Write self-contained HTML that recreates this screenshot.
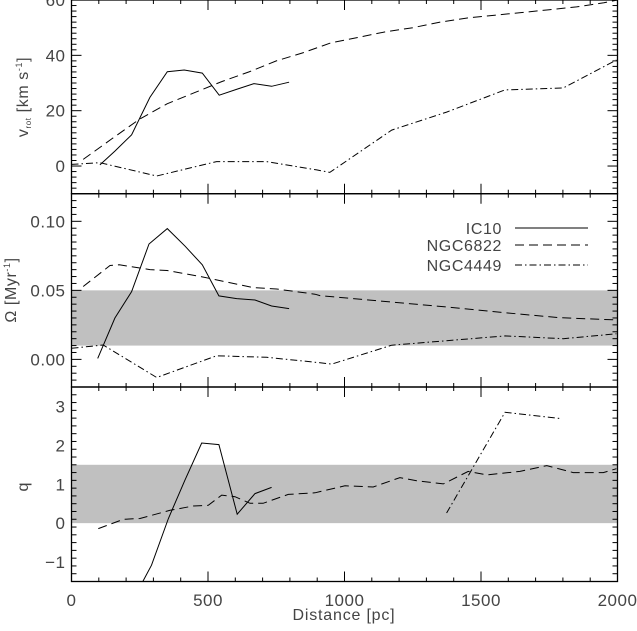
<!DOCTYPE html>
<html><head><meta charset="utf-8"><style>
html,body{margin:0;padding:0;background:#fff;}
svg{display:block;font-family:"Liberation Sans",sans-serif;}
</style></head><body>
<svg id="chart" width="637" height="631" viewBox="0 0 637 631" xmlns="http://www.w3.org/2000/svg"></svg>
<script>
const ic10V_d=[104,159,220,287,351,413,479,541,607,668,733,797];
const ic10V_v=[0.4,5.4,11.3,24.8,34.1,34.7,33.6,25.6,27.8,29.8,28.8,30.3];
const n6822V_d=[43,150,250,350,450,550,650,750,850,950,1050,1150,1250,1350,1450,1550,1650,1750,1850,1950,2000];
const n6822V_v=[2.4,10,17,22.5,26.5,30.5,34,38,41,44.5,46.5,48.5,50,52,53.5,54.5,55.5,56.5,57.5,59,60];
const n4449V_d=[0,104,312,531,715,898,946,1173,1374,1588,1801,1996];
const n4449V_v=[0.6,1.2,-3.6,1.6,1.6,-1.4,-2.3,13,19.5,27.5,28.2,38.3];

const ic10O_d=[96,159,220,284,351,416,479,540,605,672,733,797];
const ic10O_v=[0.0007,0.030,0.049,0.0836,0.0947,0.082,0.0685,0.046,0.044,0.043,0.0387,0.0368];
const n6822O_d=[43,141,175,287,350,483,666,751,892,910,1398,1594,1789,1984,2000];
const n6822O_v=[0.0528,0.068,0.0685,0.065,0.0644,0.0596,0.052,0.051,0.0472,0.0462,0.0375,0.0337,0.0302,0.0287,0.0285];
const n4449O_d=[0,116,312,531,715,898,953,1173,1588,1801,1996];
const n4449O_v=[0.008,0.0104,-0.0131,0.0026,0.0015,-0.0022,-0.0034,0.0103,0.017,0.015,0.0185];

const ic10Q_d=[261,293,355,415,477,540,607,672,733];
const ic10Q_v=[-1.5,-1.08,0.12,1.1,2.06,2.02,0.23,0.76,0.92];
const n6822Q_d=[98,190,251,361,446,501,550,599,654,702,794,892,910,1002,1105,1203,1264,1362,1453,1521,1643,1741,1838,1948,1996];
const n6822Q_v=[-0.14,0.1,0.12,0.33,0.44,0.46,0.72,0.68,0.51,0.51,0.74,0.78,0.81,0.96,0.93,1.17,1.09,1.01,1.33,1.24,1.33,1.48,1.3,1.3,1.4];
const n4449Q_d=[1374,1588,1789];
const n4449Q_v=[0.26,2.85,2.69];

const xTicks=[0,500,1000,1500,2000];
const vTicks=[0,20,40,60];
const oTicks=[0.00,0.05,0.10];
const qTicks=[-1,0,1,2,3];

const NS="http://www.w3.org/2000/svg";
const svg=document.getElementById('chart');
const X0=71.5,X1=617.5;
const TXT='#444';
const xs=d=>X0+(d/2000)*(X1-X0);
function mk(tag,attrs,parent){const e=document.createElementNS(NS,tag);for(const k in attrs)e.setAttribute(k,attrs[k]);(parent||svg).appendChild(e);return e;}
const panels=[
 {name:'velocity',top:0,bot:193.7,min:-10,max:60,minor:2,major:20,ticks:vTicks,fmt:v=>String(v),band:null,
  series:[[ic10V_d,ic10V_v,'none','ic10'],[n6822V_d,n6822V_v,'9,5','ngc6822'],[n4449V_d,n4449V_v,'7,3,1.5,3','ngc4449']]},
 {name:'omega',top:193.7,bot:387,min:-0.02,max:0.12,minor:0.005,major:0.05,ticks:oTicks,fmt:v=>v.toFixed(2),band:[0.01,0.05],
  series:[[ic10O_d,ic10O_v,'none','ic10'],[n6822O_d,n6822O_v,'9,5','ngc6822'],[n4449O_d,n4449O_v,'7,3,1.5,3','ngc4449']]},
 {name:'q',top:387,bot:581.5,min:-1.5,max:3.5,minor:0.2,major:1,ticks:qTicks,fmt:v=>(v<0?'\u2212'+Math.abs(v):String(v)),band:[0,1.5],
  series:[[ic10Q_d,ic10Q_v,'none','ic10'],[n6822Q_d,n6822Q_v,'9,5','ngc6822'],[n4449Q_d,n4449Q_v,'7,3,1.5,3','ngc4449']]}
];
panels.forEach(p=>{
 const ys=v=>p.bot-(v-p.min)/(p.max-p.min)*(p.bot-p.top);
 const g=mk('g',{});
 
 
 if(p.band){const r=mk('rect',{x:X0,y:ys(p.band[1]),width:X1-X0,height:ys(p.band[0])-ys(p.band[1]),fill:'#c0c0c0'},g);
  }
 p.series.forEach(s=>{
  const pts=s[0].map((d,i)=>xs(d).toFixed(1)+','+ys(s[1][i]).toFixed(1)).join(' ');
  const pl=mk('polyline',{points:pts,fill:'none',stroke:'#000','stroke-width':1},g);
  if(s[2]!=='none')pl.setAttribute('stroke-dasharray',s[2]);
  
  
 });
 for(let d=0;d<=2000;d+=100){const maj=d%500===0;const L=maj?10:4;const x=xs(d);
  mk('line',{x1:x,x2:x,y1:p.bot,y2:p.bot-L,stroke:'#000'},g);mk('line',{x1:x,x2:x,y1:p.top,y2:p.top+L,stroke:'#000'},g);}
 const nMin=Math.round((p.max-p.min)/p.minor);
 for(let i=0;i<=nMin;i++){const v=p.min+i*p.minor;const r=v/p.major;const maj=Math.abs(r-Math.round(r))<1e-6;const L=maj?10:5;const y=ys(v);
  mk('line',{x1:X0,x2:X0+L,y1:y,y2:y,stroke:'#000'},g);mk('line',{x1:X1,x2:X1-L,y1:y,y2:y,stroke:'#000'},g);}
 mk('rect',{x:X0,y:p.top,width:X1-X0,height:p.bot-p.top,fill:'none',stroke:'#000','stroke-width':1.3},g);
 p.ticks.forEach(v=>{const t=mk('text',{x:X0-6,y:ys(v)+6,'text-anchor':'end','font-size':17,fill:TXT,'letter-spacing':0.5},g);t.textContent=p.fmt(v);
  });
});
xTicks.forEach(d=>{const t=mk('text',{x:xs(d),y:606,'text-anchor':'middle','font-size':17,fill:TXT,'letter-spacing':0.5});t.textContent=String(d);
 });
let t=mk('text',{x:344,y:620,'text-anchor':'middle','font-size':16,fill:TXT,'letter-spacing':0.8});t.textContent='Distance [pc]';

t=mk('text',{transform:'translate(28,97) rotate(-90)','text-anchor':'middle','font-size':16,fill:TXT,'letter-spacing':0.6});
t.innerHTML='v<tspan font-size="8" dy="3">rot</tspan><tspan dy="-3"> [km s</tspan><tspan font-size="9" dy="-6">-1</tspan><tspan dy="6">]</tspan>';

t=mk('text',{transform:'translate(16,290) rotate(-90)','text-anchor':'middle','font-size':16,fill:TXT,'letter-spacing':0.6});
t.innerHTML='\u03A9  [Myr<tspan font-size="9" dy="-6">-1</tspan><tspan dy="6">]</tspan>';

t=mk('text',{transform:'translate(28,487) rotate(-90)','text-anchor':'middle','font-size':16,fill:TXT});t.textContent='q';

const legend=[['IC10','none',228],['NGC6822','9,5',245],['NGC4449','7,3,1.5,3',265]];
legend.forEach(l=>{const g=mk('g',{});
 const tx=mk('text',{x:502,y:l[2]+6,'text-anchor':'end','font-size':16,fill:TXT,'letter-spacing':0.6},g);tx.textContent=l[0];
 const ln=mk('line',{x1:515,x2:588,y1:l[2],y2:l[2],stroke:'#000'},g);if(l[1]!=='none')ln.setAttribute('stroke-dasharray',l[1]);});
</script>
</body></html>
